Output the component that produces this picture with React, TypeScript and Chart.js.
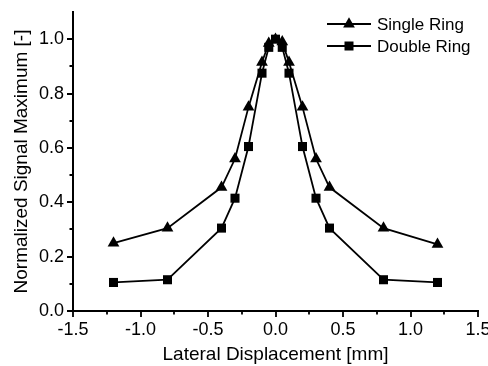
import { useEffect, useRef } from 'react';
import { Chart, registerables } from 'chart.js';

Chart.register(...registerables);

const xValues = [-1.2, -0.8, -0.4, -0.3, -0.2, -0.1, -0.05, 0, 0.05, 0.1, 0.2, 0.3, 0.4, 0.8, 1.2];
const singleRing = [0.25, 0.305, 0.455, 0.56, 0.75, 0.915, 0.985, 1.0, 0.99, 0.915, 0.75, 0.56, 0.455, 0.305, 0.245];
const doubleRing = [0.105, 0.115, 0.305, 0.415, 0.605, 0.875, 0.97, 1.0, 0.97, 0.875, 0.605, 0.415, 0.305, 0.115, 0.105];

const xMajorTicks = [-1.5, -1.0, -0.5, 0.0, 0.5, 1.0, 1.5];
const xMinorTicks = [-1.25, -0.75, -0.25, 0.25, 0.75, 1.25];
const yMajorTicks = [0.0, 0.2, 0.4, 0.6, 0.8, 1.0];
const yMinorTicks = [0.1, 0.3, 0.5, 0.7, 0.9];

const seriesNames = ['Single Ring', 'Double Ring'];
const seriesMarkers = ['triangle', 'rect'];

const FONT = '"Liberation Sans", Arial, Helvetica, sans-serif';

const tickMarksPlugin = {
  id: 'tickMarks',
  afterDraw(chart: any) {
    const ctx = chart.ctx;
    const xs = chart.scales.x;
    const ys = chart.scales.y;
    const area = chart.chartArea;
    ctx.save();
    ctx.strokeStyle = '#000';
    ctx.lineWidth = 1.8;
    ctx.beginPath();
    const drawX = (v: number, len: number) => {
      const px = Math.round(xs.getPixelForValue(v));
      ctx.moveTo(px, area.bottom);
      ctx.lineTo(px, area.bottom + len);
    };
    const drawY = (v: number, len: number) => {
      const py = Math.round(ys.getPixelForValue(v));
      ctx.moveTo(area.left, py);
      ctx.lineTo(area.left - len, py);
    };
    xMajorTicks.forEach((v) => drawX(v, 6));
    xMinorTicks.forEach((v) => drawX(v, 3.5));
    yMajorTicks.forEach((v) => drawY(v, 6));
    yMinorTicks.forEach((v) => drawY(v, 3.5));
    ctx.stroke();

    // legend
    const lx0 = area.right - 151;
    const lx1 = area.right - 107;
    const tx = area.right - 101;
    const rows = [area.top + 12, area.top + 34];
    ctx.font = '17px ' + FONT;
    ctx.textBaseline = 'middle';
    ctx.fillStyle = '#000';
    chart.data.datasets.forEach((ds: any, i: number) => {
      const y = rows[i];
      ctx.beginPath();
      ctx.lineWidth = 1.8;
      ctx.moveTo(lx0, y);
      ctx.lineTo(lx1, y);
      ctx.stroke();
      const mx = (lx0 + lx1) / 2;
      ctx.beginPath();
      if (ds.pointStyle === 'triangle') {
        const r = 6.8;
        ctx.moveTo(mx, y - r);
        ctx.lineTo(mx + r * 0.866, y + r * 0.5);
        ctx.lineTo(mx - r * 0.866, y + r * 0.5);
        ctx.closePath();
      } else {
        ctx.rect(mx - 4.5, y - 4.5, 9, 9);
      }
      ctx.fill();
      ctx.fillText(ds.label, tx, y + 1);
    });
    ctx.restore();
  },
};

export default function App() {
  const canvasRef = useRef<HTMLCanvasElement | null>(null);

  useEffect(() => {
    const canvas = canvasRef.current;
    if (!canvas) return;
    const datasets = [singleRing, doubleRing].map((vals, i) => ({
      label: seriesNames[i],
      data: xValues.map((x, j) => ({ x, y: vals[j] })),
      borderColor: '#000',
      backgroundColor: '#000',
      borderWidth: 1.8,
      pointStyle: seriesMarkers[i],
      pointRadius: i === 0 ? 6.8 : 6.4,
      pointBorderWidth: 0,
      pointBackgroundColor: '#000',
      showLine: true,
      tension: 0,
    }));

    const chart = new Chart(canvas, {
      type: 'scatter',
      data: { datasets },
      options: {
        animation: false,
        responsive: false,
        maintainAspectRatio: false,
        layout: { padding: { left: 0, right: 10, top: 12, bottom: 0 } },
        plugins: {
          legend: { display: false },
          tooltip: { enabled: false },
        },
        scales: {
          x: {
            type: 'linear',
            min: -1.5,
            max: 1.5,
            afterBuildTicks: (scale: any) => {
              scale.ticks = xMajorTicks.map((v) => ({ value: v }));
            },
            afterFit: (scale: any) => {
              scale.height = 55;
              scale.paddingLeft = 0;
              scale.paddingRight = 0;
            },
            grid: { display: false, drawTicks: false },
            border: { display: true, color: '#000', width: 2 },
            ticks: {
              color: '#000',
              padding: 8,
              maxRotation: 0,
              autoSkip: false,
              font: { family: FONT, size: 18 },
              callback: (v: any) => Number(v).toFixed(1),
            },
            title: {
              display: true,
              text: 'Lateral Displacement [mm]',
              color: '#000',
              padding: { top: 0, bottom: 0 },
              font: { family: FONT, size: 19 },
            },
          },
          y: {
            type: 'linear',
            min: 0,
            max: 1.1,
            afterBuildTicks: (scale: any) => {
              scale.ticks = yMajorTicks.map((v) => ({ value: v }));
            },
            afterFit: (scale: any) => {
              scale.width = 73;
              scale.paddingTop = 0;
              scale.paddingBottom = 0;
            },
            grid: { display: false, drawTicks: false },
            border: { display: true, color: '#000', width: 2 },
            ticks: {
              color: '#000',
              padding: 9,
              autoSkip: false,
              font: { family: FONT, size: 18 },
              callback: (v: any) => Number(v).toFixed(1),
            },
            title: {
              display: true,
              text: 'Normalized Signal Maximum [-]',
              color: '#000',
              padding: { top: 10, bottom: 0 },
              font: { family: FONT, size: 19 },
            },
          },
        },
      },
      plugins: [tickMarksPlugin],
    } as any);

    return () => chart.destroy();
  }, []);

  return (
    <div style={{ position: 'fixed', left: 0, top: 0, width: 488, height: 366, background: '#fff' }}>
      <canvas ref={canvasRef} width={488} height={366} style={{ width: 488, height: 366, display: 'block' }} />
    </div>
  );
}
